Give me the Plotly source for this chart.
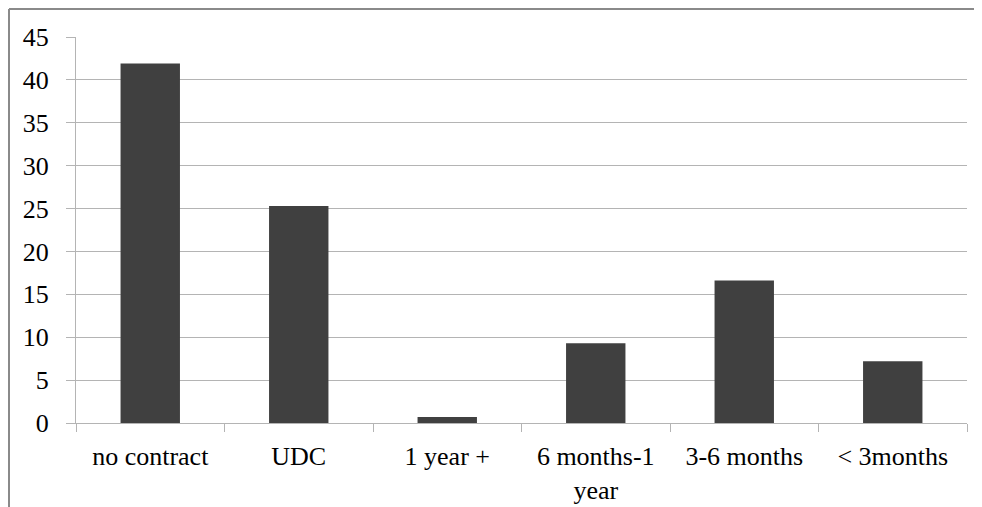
import plotly.graph_objects as go

categories = ["no contract", "UDC", "1 year +", "6 months-1<br>year", "3-6 months", "< 3months"]
values = [41.9, 25.3, 0.7, 9.3, 16.6, 7.2]
y_ticks = [0, 5, 10, 15, 20, 25, 30, 35, 40, 45]

GRID = "#b4b4b4"
FONT = dict(family="'Liberation Serif', 'Times New Roman', serif", size=26, color="#000000")

# the page body has an 8px default margin, so the figure starts at (8, 8)
OFF = 8

fig = go.Figure(
    go.Bar(
        x=categories,
        y=values,
        width=0.4,
        marker=dict(color="#404040", line=dict(width=0)),
    )
)

fig.update_layout(
    width=982 - OFF,
    height=507 - OFF,
    margin=dict(l=76 - OFF, r=15, t=37 - OFF, b=84),
    paper_bgcolor="white",
    plot_bgcolor="white",
    showlegend=False,
    font=FONT,
    bargap=0.6,
)

fig.update_xaxes(
    type="category",
    automargin=False,
    showline=True,
    linecolor=GRID,
    linewidth=1,
    ticks="outside",
    tickson="boundaries",
    ticklen=8,
    tickcolor=GRID,
    showgrid=False,
    tickfont=FONT,
    ticklabelstandoff=10,
)

fig.update_yaxes(
    range=[0, 45],
    automargin=False,
    tickvals=y_ticks,
    showline=True,
    linecolor=GRID,
    linewidth=1,
    ticks="outside",
    ticklen=9,
    tickcolor=GRID,
    showgrid=True,
    gridcolor=GRID,
    gridwidth=1,
    zeroline=False,
    tickfont=FONT,
    ticklabelstandoff=12,
)

# outer chart-area border (left and top visible)
fig.add_shape(type="line", xref="paper", yref="paper",
              x0=(9 - 76) / 891, x1=1.2, y0=(423 - 9) / 386, y1=(423 - 9) / 386,
              line=dict(color="#8a8a8a", width=2))
fig.add_shape(type="line", xref="paper", yref="paper",
              x0=(9 - 76) / 891, x1=(9 - 76) / 891, y0=(423 - 9) / 386, y1=-0.5,
              line=dict(color="#8a8a8a", width=2))

fig.write_html("out.html")
